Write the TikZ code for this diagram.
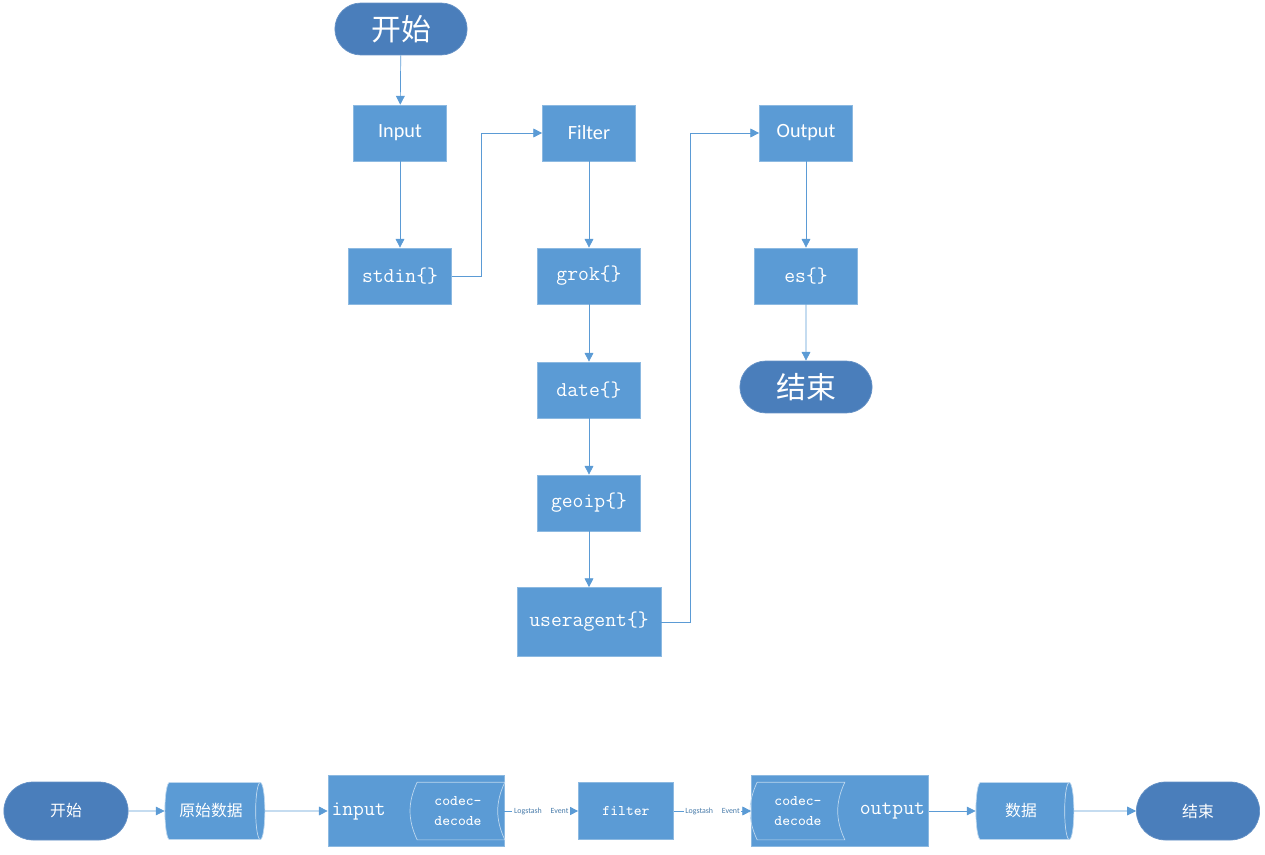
\documentclass[tikz,border=0pt]{standalone}
\usepackage{fontspec}
\setmainfont{Carlito}
\newfontfamily\cjk{Noto Sans CJK SC}
\usetikzlibrary{shapes.geometric,shapes.misc,arrows.meta,positioning,calc}

\definecolor{boxblue}{RGB}{91,155,213}
\definecolor{termblue}{RGB}{74,126,187}
\definecolor{edgeblue}{RGB}{189,215,238}

\begin{document}
\begin{tikzpicture}[
    x=0.02cm, y=-0.02cm,
    terminal/.style={rounded rectangle, fill=termblue, draw=termblue!85!white, text=white},
    procbox/.style={rectangle, fill=boxblue, draw=edgeblue!50!boxblue, text=white, inner sep=2pt},
    stage/.style={procbox, minimum width=1.86cm, minimum height=1.12cm, font=\fontsize{11.5}{13}\selectfont},
    plugin/.style={procbox, minimum width=2.06cm, minimum height=1.12cm, font=\ttfamily\fontsize{12}{14}\selectfont},
    store/.style={cylinder, shape aspect=.35, cylinder uses custom fill,
      cylinder body fill=boxblue, cylinder end fill=boxblue, draw=edgeblue,
      text=white, minimum height=2cm, minimum width=1.14cm, font=\cjk\fontsize{9}{11}\selectfont},
    codec/.style={align=center, text=white, inner sep=0pt, minimum width=1.86cm,
      minimum height=1.14cm, font=\ttfamily\fontsize{8.4}{11}\selectfont},
    codecline/.style={draw=edgeblue, line width=0.4pt},
    flow/.style={draw=boxblue, -{Triangle[width=5pt,length=5pt]}},
    evlabel/.style={fill=white, inner sep=1pt, text=boxblue!80!black, font=\fontsize{4.5}{5}\selectfont},
]
\useasboundingbox (0,0) rectangle (1265,855);

% pipeline, top
\node[terminal, minimum width=2.88cm, minimum height=1.04cm, font=\cjk\fontsize{17}{20}\selectfont] (start) at (401,29) {开始};
\node[stage] (input) at (400,133) {Input};
\node[plugin] (stdin) at (400,276) {stdin\{\}};
\node[stage] (filter) at (589,133) {Filter};
\node[plugin] (grok) at (589,276) {grok\{\}};
\node[plugin] (date) at (589,390) {date\{\}};
\node[plugin] (geoip) at (589,503) {geoip\{\}};
\node[plugin, minimum width=2.88cm, minimum height=1.38cm] (useragent) at (589,622) {useragent\{\}};
\node[stage] (output) at (806,133) {Output};
\node[plugin] (es) at (806,276) {es\{\}};
\node[terminal, minimum width=2.88cm, minimum height=1.04cm, font=\cjk\fontsize{17}{20}\selectfont] (stop) at (806,387) {结束};

\draw[flow] (start) -- (input);
\draw[flow] (input) -- (stdin);
\draw[flow] (stdin.east) -- ++(30,0) |- (filter.west);
\draw[flow] (filter) -- (grok);
\draw[flow] (grok) -- (date);
\draw[flow] (date) -- (geoip);
\draw[flow] (geoip) -- (useragent);
\draw[flow] (useragent.east) -- ++(29,0) |- (output.west);
\draw[flow] (output) -- (es);
\draw[flow] (es) -- (stop);

% event flow, bottom
\node[terminal, minimum width=2.72cm, minimum height=1.16cm, font=\cjk\fontsize{9}{11}\selectfont] (begin) at (66,811) {开始};
\node[store] (raw) at (211,811) {原始数据};
\node[procbox, minimum width=3.52cm, minimum height=1.42cm] (inbox) at (416,811) {};
\node[anchor=west, text=white, inner sep=2pt, font=\ttfamily\fontsize{12}{14}\selectfont] (intext) at (inbox.west) {input};
\node[codec] (indec) at (458,811) {codec-\\decode};
\draw[codecline] ($(indec.north west)+(6,0)$) to[bend right=25] ($(indec.south west)+(6,0)$)
  -- (indec.south east) to[bend left=25] (indec.north east) -- cycle;
\node[procbox, minimum width=1.9cm, minimum height=1.14cm, font=\ttfamily\fontsize{8.4}{11}\selectfont] (filt) at (626,811) {filter};
\node[procbox, minimum width=3.54cm, minimum height=1.42cm] (outbox) at (840,811) {};
\node[anchor=east, text=white, inner sep=2pt, font=\ttfamily\fontsize{12}{14}\selectfont] (outtext) at (outbox.east) {output};
\node[codec] (outdec) at (798,811) {codec-\\decode};
\draw[codecline] ($(outdec.north west)+(6,0)$) to[bend right=25] ($(outdec.south west)+(6,0)$)
  -- (outdec.south east) to[bend left=25] (outdec.north east) -- cycle;
\node[store, minimum height=1.96cm] (data) at (1021,811) {数据};
\node[terminal, minimum width=2.70cm, minimum height=1.16cm, font=\cjk\fontsize{9}{11}\selectfont] (finish) at (1198,811) {结束};

\draw[flow] (begin) -- (raw);
\draw[flow] (raw) -- (inbox);
\draw[flow] (inbox) -- node[evlabel] {Logstash\hspace{5pt}Event} (filt);
\draw[flow] (filt) -- node[evlabel] {Logstash\hspace{5pt}Event} (outbox);
\draw[flow] (outbox) -- (data);
\draw[flow] (data) -- (finish);
\end{tikzpicture}
\end{document}
